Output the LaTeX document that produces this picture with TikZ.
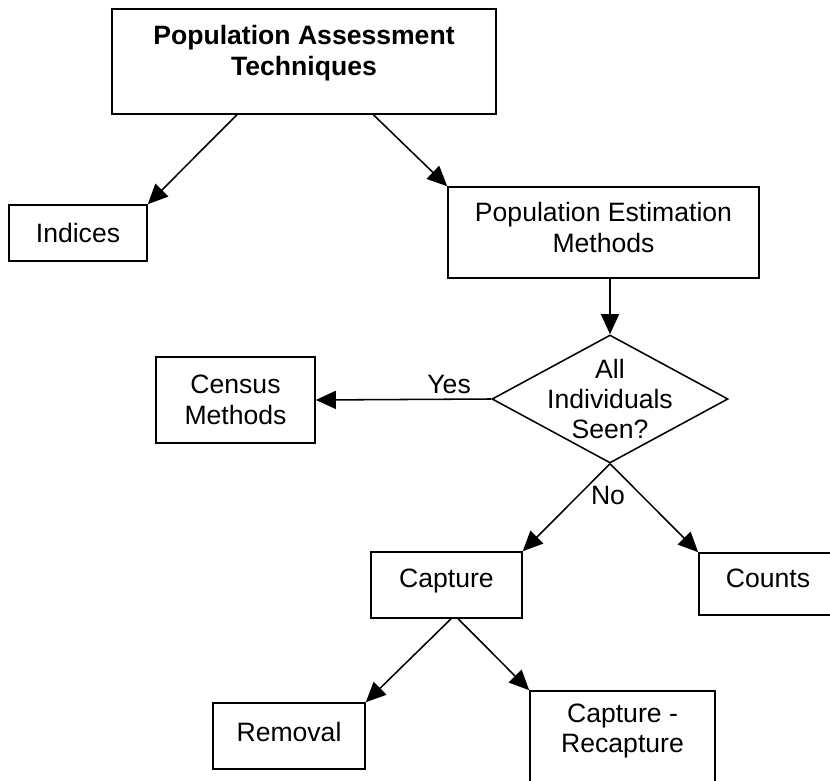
\documentclass[tikz,border=0pt]{standalone}
\usepackage{fontspec}
\setmainfont{Liberation Sans}
\usetikzlibrary{arrows.meta,shapes.geometric,calc}
\begin{document}
\begin{tikzpicture}[x=0.025cm,y=-0.025cm,line width=1.1pt,
    font=\fontsize{18.9pt}{21.6pt}\selectfont,
    box/.style={draw,rectangle,align=center,inner sep=0pt},
    choice/.style={draw,diamond,inner sep=0pt,minimum width=5.9cm,minimum height=3.2cm},
    arr/.style={-{Triangle[length=0.5cm,width=0.45cm]}}]
      \useasboundingbox (0,0) rectangle (830,781);
      \clip (0,0) rectangle (830,781);
      \node[box,minimum width=9.6cm,minimum height=2.625cm,text depth=0.56cm,
        font=\fontsize{18.9pt}{22.6pt}\selectfont\bfseries] (tech) at (304,61.5)
        {Population Assessment\\Techniques};
      \node[box,minimum width=3.45cm,minimum height=1.4cm] (ind) at (78,233) {Indices};
      \node[box,minimum width=7.775cm,minimum height=2.275cm,text depth=0.25cm] (pem) at (603.5,232.5)
        {Population Estimation\\Methods};
      \node[choice] (q) at (610,399) {};
      \node[align=center] (qtext) at (q.center) {All\\Individuals\\Seen?};
      \node[box,minimum width=3.975cm,minimum height=2.15cm] (census) at (235.5,400)
        {Census\\Methods};
      \node[box,minimum width=3.775cm,minimum height=1.65cm,text depth=0.35cm] (cap) at (446.5,585) {Capture};
      \node[box,minimum width=3.45cm,minimum height=1.55cm,text depth=0.3cm] (cnt) at (768,584) {Counts};
      \node[box,minimum width=3.8cm,minimum height=1.65cm,text depth=0.2cm] (rem) at (289,736) {Removal};
      \node[box,minimum width=4.625cm,minimum height=2.35cm,text depth=0.5cm] (recap) at (622.5,738)
        {Capture -\\Recapture};
      \node (no) at (608,495) {No};
      \begin{scope}[arr]
        \draw ($(tech.south west)!0.326!(tech.south east)$) to (ind.north east);
        \draw ($(tech.south west)!0.68!(tech.south east)$) to (pem.north west);
        \draw (pem.south -| q.north) to (q.north);
        \draw (q.west) to node[pos=0.24,above] (yes) {Yes} (census.east);
        \draw (q.south) to (cap.north east);
        \draw (q.south) to (cnt.north west);
        \draw ($(cap.south west)!0.53!(cap.south east)$) to (rem.north east);
        \draw ($(cap.south west)!0.576!(cap.south east)$) to (recap.north west);
      \end{scope}
\end{tikzpicture}
\end{document}
